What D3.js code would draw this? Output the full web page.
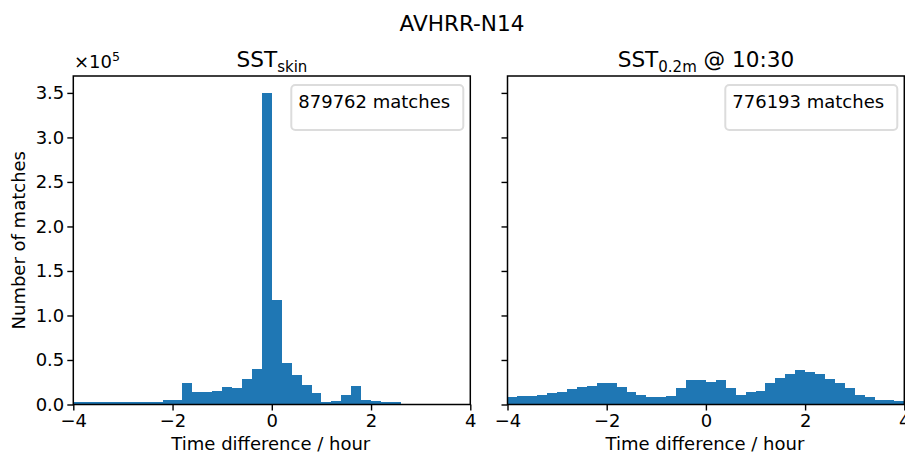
<!DOCTYPE html>
<html>
<head>
<meta charset="utf-8">
<script src="https://cdn.jsdelivr.net/npm/d3@7/dist/d3.min.js"></script>
<style>
  html, body { margin: 0; padding: 0; background: #fff; }
  svg { display: block; }
  text { font-family: "DejaVu Sans", sans-serif; fill: #000; }
</style>
</head>
<body>
<svg id="chart" width="905" height="454"></svg>
<script>
// ---- data ----
const binLefts = [-4.0, -3.8, -3.6, -3.4, -3.2, -3.0, -2.8, -2.6, -2.4, -2.2,
                  -2.0, -1.8, -1.6, -1.4, -1.2, -1.0, -0.8, -0.6, -0.4, -0.2,
                   0.0,  0.2,  0.4,  0.6,  0.8,  1.0,  1.2,  1.4,  1.6,  1.8,
                   2.0,  2.2,  2.4,  2.6,  2.8,  3.0,  3.2,  3.4,  3.6,  3.8];
const binWidth = 0.2;
const skinCounts = [2600, 2600, 2600, 2600, 2600, 2600, 2600, 2600, 2600, 4500,
                    5600, 23600, 13500, 13500, 15700, 19100, 18000, 29200, 40400, 350000,
                    117000, 46400, 33000, 21700, 12700, 2600, 3400, 10500, 20600, 4500,
                    3700, 2600, 2600, 0, 0, 0, 0, 0, 0, 0];
const depthCounts = [7900, 9000, 10100, 11200, 12400, 14600, 16900, 19100, 21300, 23600,
                     24700, 20200, 14600, 11200, 7900, 7900, 9000, 18000, 27000, 27000,
                     25800, 27000, 18000, 11200, 13500, 15700, 23600, 30300, 34800, 38200,
                     36000, 33700, 29200, 23600, 18000, 11200, 7900, 5600, 4500, 3400];
const xTickValues = [-4, -2, 0, 2, 4];
const xTickLabels = ["\u22124", "\u22122", "0", "2", "4"];
const yTickValues = [0, 50000, 100000, 150000, 200000, 250000, 300000, 350000];
const yTickLabels = ["0.0", "0.5", "1.0", "1.5", "2.0", "2.5", "3.0", "3.5"];
const legendTexts = ["879762 matches", "776193 matches"];
const figTitle = "AVHRR-N14";
const xLabel = "Time difference / hour";
const yLabel = "Number of matches";

// ---- layout ----
const svg = d3.select("#chart");
const color = "#1f77b4";
const axTop = 76, axBottom = 404.5;
const yMax = 369000;
const y = d3.scaleLinear().domain([0, yMax]).range([axBottom, axTop]);

const panels = [
  { x0: 73.3, x1: 470.3, counts: skinCounts, legend: legendTexts[0], showY: true },
  { x0: 507.5, x1: 904.3, counts: depthCounts, legend: legendTexts[1], showY: false }
];

svg.append("text").attr("x", 462).attr("y", 31).attr("text-anchor", "middle")
  .style("font-size", "21.6px").text(figTitle);

panels.forEach((p, pi) => {
  const x = d3.scaleLinear().domain([-4, 4]).range([p.x0, p.x1]);
  const g = svg.append("g");
  const data = binLefts.map((b, i) => ({ b, v: p.counts[i] }));

  g.selectAll("rect.bar").data(data).enter().append("rect")
    .attr("class", "bar")
    .attr("x", d => x(d.b))
    .attr("width", d => x(d.b + binWidth) - x(d.b))
    .attr("y", d => y(d.v))
    .attr("height", d => y(0) - y(d.v))
    .attr("fill", color)
    .attr("shape-rendering", "crispEdges");

  // x axis
  const xa = d3.axisBottom(x).tickValues(xTickValues)
    .tickFormat((d, i) => xTickLabels[i]).tickSize(6).tickPadding(4).tickSizeOuter(0);
  const gx = g.append("g").attr("transform", `translate(0,${axBottom})`).call(xa);
  gx.select(".domain").remove();
  gx.selectAll("line").attr("stroke", "#000").attr("stroke-width", 1.4);
  gx.selectAll("text").style("font-size", "18px").attr("fill", "#000");

  // y axis
  const ya = d3.axisLeft(y).tickValues(yTickValues)
    .tickFormat((d, i) => p.showY ? yTickLabels[i] : "").tickSize(6).tickPadding(3).tickSizeOuter(0);
  const gy = g.append("g").attr("transform", `translate(${p.x0},0)`).call(ya);
  gy.select(".domain").remove();
  gy.selectAll("line").attr("stroke", "#000").attr("stroke-width", 1.4);
  gy.selectAll("text").style("font-size", "18px").attr("fill", "#000");

  // spines
  g.append("rect").attr("x", p.x0).attr("y", axTop)
    .attr("width", p.x1 - p.x0).attr("height", axBottom - axTop)
    .attr("fill", "none").attr("stroke", "#000").attr("stroke-width", 1.5);

  // x label
  g.append("text").attr("x", (p.x0 + p.x1) / 2 - 1).attr("y", 450)
    .attr("text-anchor", "middle").style("font-size", "18px").text(xLabel);

  // legend
  const lw = 172, lh = 45;
  const lx = p.x1 - 7 - lw, ly = 85;
  g.append("rect").attr("x", lx).attr("y", ly).attr("width", lw).attr("height", lh)
    .attr("rx", 4).attr("ry", 4)
    .attr("fill", "#fff").attr("fill-opacity", 0.8)
    .attr("stroke", "#dcdcdc").attr("stroke-width", 2);
  g.append("text").attr("x", lx + 7).attr("y", 108)
    .style("font-size", "18px").text(p.legend);
});

// subplot titles
const t1 = svg.append("text").attr("x", 272).attr("y", 67).attr("text-anchor", "middle")
  .style("font-size", "21.6px");
t1.append("tspan").text("SST");
t1.append("tspan").attr("dy", 5).style("font-size", "15px").text("skin");

const t2 = svg.append("text").attr("x", 706).attr("y", 67).attr("text-anchor", "middle")
  .style("font-size", "21.6px");
t2.append("tspan").text("SST");
t2.append("tspan").attr("dy", 5).style("font-size", "15px").text("0.2m");
t2.append("tspan").attr("dy", -5).text(" @ 10:30");

// offset text
const off = svg.append("text").attr("x", 74).attr("y", 68).style("font-size", "18px");
off.append("tspan").text("\u00d710");
off.append("tspan").attr("dy", -7).style("font-size", "12.6px").text("5");

// y label
svg.append("text").attr("transform", `translate(25,${(axTop + axBottom) / 2}) rotate(-90)`)
  .attr("text-anchor", "middle").style("font-size", "18px").text(yLabel);
</script>
</body>
</html>
